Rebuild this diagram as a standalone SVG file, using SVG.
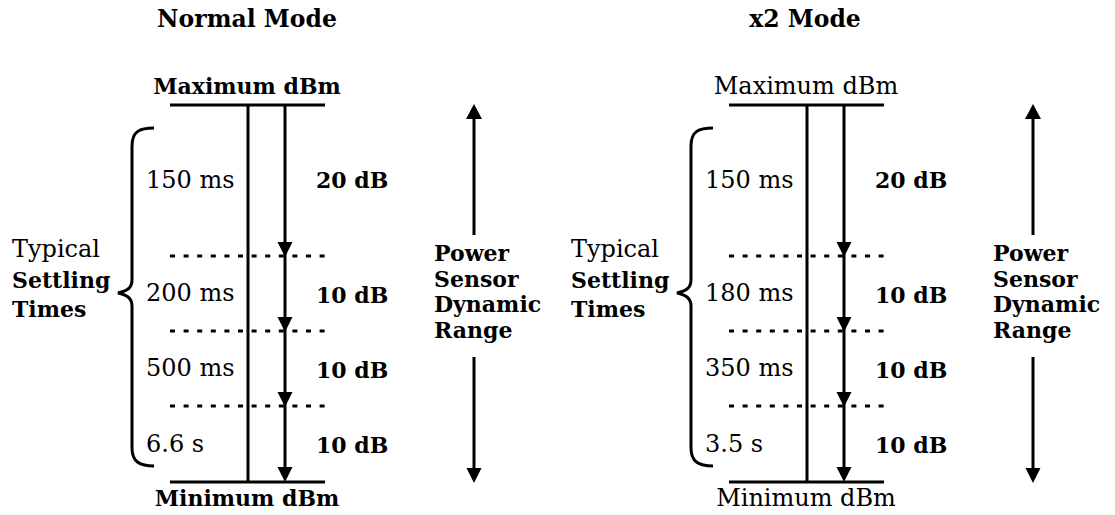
<svg xmlns="http://www.w3.org/2000/svg" width="1115" height="515" viewBox="0 0 1115 515">
<style>
text{font-family:"DejaVu Serif","Liberation Serif",serif;font-size:24px;fill:#000}
.b{font-weight:bold;font-size:22px}
.h{font-size:23.5px}
.c{text-anchor:middle}
.ln{stroke:#000;stroke-width:3;fill:none}
.dot{stroke:#000;stroke-width:3;stroke-dasharray:5 8.6;fill:none}
</style>
<defs>
<polygon id="down" points="-7.5,-15 7.5,-15 0,0"/>
<polygon id="up" points="-8,15 8,15 0,0"/>
</defs>
<g id="normal-mode">
<text id="t-normal" class="b c h" x="247" y="27">Normal Mode</text>
<g id="n-max"><text class="b c" x="247" y="94">Maximum dBm</text></g>
<g id="n-min"><text class="b c" x="247" y="506">Minimum dBm</text></g>
<g id="n-settling">
<text x="12" y="257">Typical</text>
<text class="b" x="12" y="288">Settling</text>
<text class="b" x="12" y="317">Times</text>
</g>
<g id="n-times">
<text x="146" y="188">150 ms</text>
<text x="146" y="301">200 ms</text>
<text x="146" y="376">500 ms</text>
<text x="146" y="452">6.6 s</text>
</g>
<g id="n-db">
<text class="b" x="316" y="188">20 dB</text>
<text class="b" x="316" y="303">10 dB</text>
<text class="b" x="316" y="378">10 dB</text>
<text class="b" x="316" y="453">10 dB</text>
</g>
<g id="n-range">
<text class="b" x="434" y="261">Power</text>
<text class="b" x="434" y="287">Sensor</text>
<text class="b" x="434" y="312">Dynamic</text>
<text class="b" x="434" y="338">Range</text>
</g>
</g>
<g id="x2-mode">
<text id="t-x2" class="b c h" x="805" y="27">x2 Mode</text>
<g id="x-max"><text class="c" x="806" y="94">Maximum dBm</text></g>
<g id="x-min"><text class="c" x="806" y="506">Minimum dBm</text></g>
<g id="x-settling">
<text x="571" y="257">Typical</text>
<text class="b" x="571" y="288">Settling</text>
<text class="b" x="571" y="317">Times</text>
</g>
<g id="x-times">
<text x="705" y="188">150 ms</text>
<text x="705" y="301">180 ms</text>
<text x="705" y="376">350 ms</text>
<text x="705" y="452">3.5 s</text>
</g>
<g id="x-db">
<text class="b" x="875" y="188">20 dB</text>
<text class="b" x="875" y="303">10 dB</text>
<text class="b" x="875" y="378">10 dB</text>
<text class="b" x="875" y="453">10 dB</text>
</g>
<g id="x-range">
<text class="b" x="993" y="261">Power</text>
<text class="b" x="993" y="287">Sensor</text>
<text class="b" x="993" y="312">Dynamic</text>
<text class="b" x="993" y="338">Range</text>
</g>
</g>
<g id="connectors">
<g id="left-conn">
<line class="ln" x1="170" y1="105" x2="325" y2="105"/>
<line class="ln" x1="170" y1="482" x2="325" y2="482"/>
<line class="ln" x1="248" y1="105" x2="248" y2="482"/>
<line class="ln" x1="285" y1="105" x2="285" y2="472"/>
<line class="dot" x1="170" y1="256" x2="325" y2="256"/>
<line class="dot" x1="170" y1="331" x2="325" y2="331"/>
<line class="dot" x1="170" y1="406" x2="325" y2="406"/>
<use href="#down" x="285" y="257"/>
<use href="#down" x="285" y="332"/>
<use href="#down" x="285" y="407"/>
<use href="#down" x="285" y="482"/>
<path class="ln" d="M154,128 C140,128 132,131 132,146 L132,280 C132,288 127,291 118,293 C127,295 132,298 132,306 L132,448 C132,462 140,466 154,466"/>
<line class="ln" x1="474" y1="115" x2="474" y2="235"/>
<use href="#up" x="474" y="104"/>
<line class="ln" x1="474" y1="357" x2="474" y2="472"/>
<use href="#down" x="474" y="483"/>
</g>
<g id="right-conn" transform="translate(559,0)">
<line class="ln" x1="170" y1="105" x2="325" y2="105"/>
<line class="ln" x1="170" y1="482" x2="325" y2="482"/>
<line class="ln" x1="248" y1="105" x2="248" y2="482"/>
<line class="ln" x1="285" y1="105" x2="285" y2="472"/>
<line class="dot" x1="170" y1="256" x2="325" y2="256"/>
<line class="dot" x1="170" y1="331" x2="325" y2="331"/>
<line class="dot" x1="170" y1="406" x2="325" y2="406"/>
<use href="#down" x="285" y="257"/>
<use href="#down" x="285" y="332"/>
<use href="#down" x="285" y="407"/>
<use href="#down" x="285" y="482"/>
<path class="ln" d="M154,128 C140,128 132,131 132,146 L132,280 C132,288 127,291 118,293 C127,295 132,298 132,306 L132,448 C132,462 140,466 154,466"/>
<line class="ln" x1="474" y1="115" x2="474" y2="235"/>
<use href="#up" x="474" y="104"/>
<line class="ln" x1="474" y1="357" x2="474" y2="472"/>
<use href="#down" x="474" y="483"/>
</g>
</g>
</svg>
